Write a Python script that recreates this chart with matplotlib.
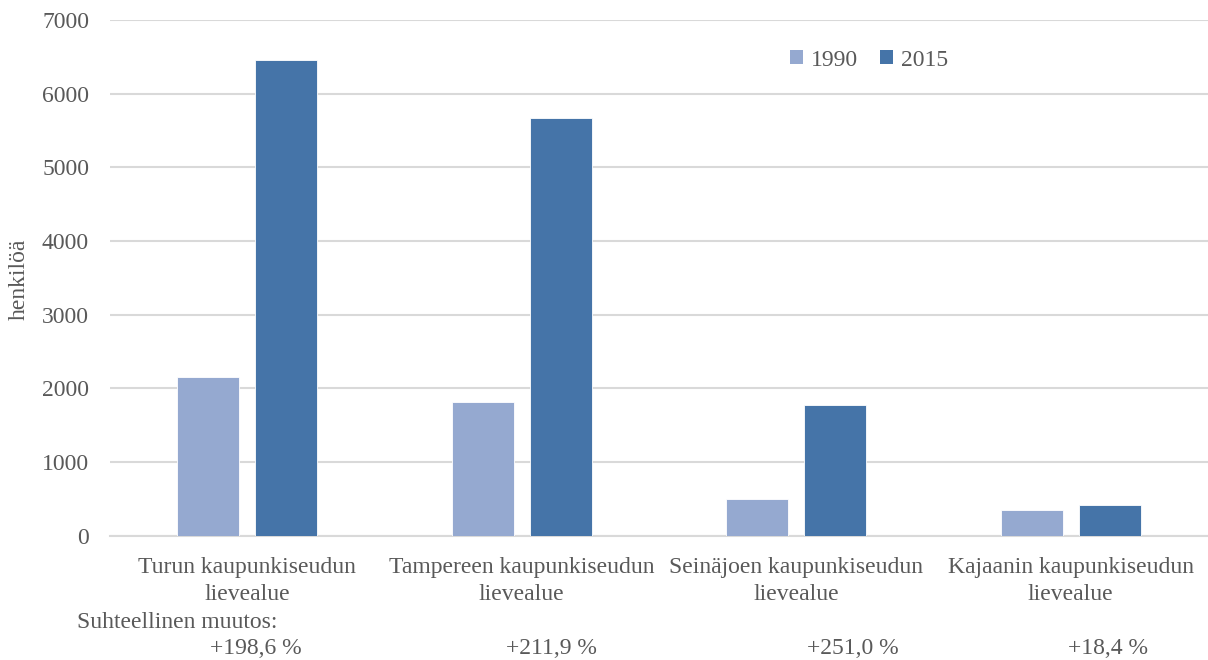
import matplotlib
matplotlib.use("Agg")
import matplotlib.pyplot as plt
import numpy as np
from matplotlib.patches import Patch

categories = [
    "Turun kaupunkiseudun\nlievealue",
    "Tampereen kaupunkiseudun\nlievealue",
    "Seinäjoen kaupunkiseudun\nlievealue",
    "Kajaanin kaupunkiseudun\nlievealue",
]
series_names = ["1990", "2015"]
values_1990 = [2160, 1818, 505, 357]
values_2015 = [6450, 5672, 1773, 423]
change_labels = ["+198,6 %", "+211,9 %", "+251,0 %", "+18,4 %"]
y_ticks = [0, 1000, 2000, 3000, 4000, 5000, 6000, 7000]

color_1990 = "#95a9d0"
color_2015 = "#4574a8"
text_color = "#595959"
grid_color = "#d9d9d9"
fs = 17

plt.rcParams["font.family"] = ["Liberation Serif", "DejaVu Serif"]

fig = plt.figure(figsize=(12.08, 6.6), dpi=100)
ax = fig.add_axes([0.091, 0.188, 0.909, 0.782])

x = np.arange(len(categories))
width = 0.226
offset = (width + 0.058) / 2
ax.bar(x - offset, values_1990, width, color=color_1990, label=series_names[0],
       edgecolor="white", linewidth=0.6, zorder=3)
ax.bar(x + offset, values_2015, width, color=color_2015, label=series_names[1],
       edgecolor="white", linewidth=0.6, zorder=3)

ax.set_xlim(-0.5, len(categories) - 0.5)
ax.set_ylim(0, 7000)
ax.set_yticks(y_ticks)
ax.set_yticklabels([str(t) for t in y_ticks])
ax.set_xticks(x)
ax.set_xticklabels(categories, linespacing=1.4)
ax.tick_params(axis="both", length=0, labelsize=fs, colors=text_color)
ax.tick_params(axis="y", pad=15)
ax.tick_params(axis="x", pad=15)
ax.grid(axis="y", color=grid_color, linewidth=1.5, zorder=0)
for side in ["left", "right", "top"]:
    ax.spines[side].set_visible(False)
ax.spines["bottom"].set_color(grid_color)
ax.spines["bottom"].set_linewidth(1.5)

# vertical axis title
fig.text(19 / 1208, 1 - 279 / 660, "henkilöä", fontsize=fs, color=text_color,
         rotation=90, ha="center", va="center")

handles = [Patch(facecolor=color_1990), Patch(facecolor=color_2015)]
ax.legend(handles, series_names, loc="center left", bbox_to_anchor=(0.600, 0.922),
          ncol=2, frameon=False, fontsize=fs, handlelength=0.55, handleheight=0.55,
          handletextpad=0.35, columnspacing=0.9, labelcolor=text_color)

fig.text(77 / 1208, 1 - 622 / 660, "Suhteellinen muutos:", fontsize=fs,
         color=text_color, va="center", ha="left")
change_x = [256, 551, 853, 1108]
for cx, lab in zip(change_x, change_labels):
    fig.text(cx / 1208, 1 - 648 / 660, lab, fontsize=fs, color=text_color,
             va="center", ha="center")

fig.savefig("out.png", dpi=100)
